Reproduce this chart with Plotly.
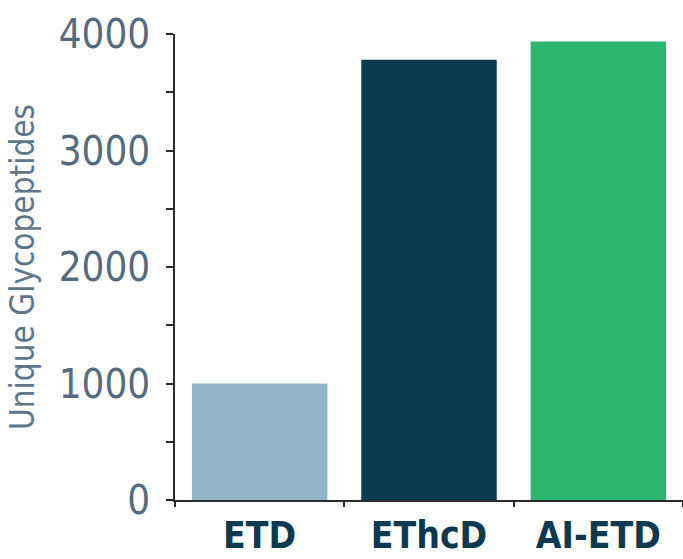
import plotly.graph_objects as go

# Unique glycopeptide identifications per fragmentation method
methods = ["ETD", "EThcD", "AI-ETD"]
glycopeptides = [1000, 3780, 3935]
bar_colors = ["#92b6c9", "#0b3a51", "#2cb56d"]

y_tick_values = [0, 1000, 2000, 3000, 4000]
y_tick_labels = ["0", "1000", "2000", "3000", "4000"]

NARROW = "DejaVu Sans Condensed, Liberation Sans Narrow, sans-serif"
SLATE = "#566b7d"
AXIS = "#2b2b2b"

fig = go.Figure(
    go.Bar(
        x=methods,
        y=glycopeptides,
        marker=dict(color=bar_colors, line=dict(width=0)),
        hoverinfo="x+y",
    )
)

fig.update_layout(
    width=683,
    height=559,
    margin=dict(l=175, r=0, t=34, b=59),
    paper_bgcolor="white",
    plot_bgcolor="white",
    bargap=0.2,
    showlegend=False,
)

fig.update_xaxes(
    type="category",
    range=[-0.5, 2.5],
    automargin=False,
    showline=True,
    linecolor=AXIS,
    linewidth=1.5,
    ticks="outside",
    tickson="boundaries",
    ticklen=5,
    tickwidth=1.5,
    tickcolor=AXIS,
    showgrid=False,
    zeroline=False,
    tickfont=dict(family=NARROW, size=37, color="#0d3a50", weight="bold"),
    ticklabelstandoff=2,
)

fig.update_yaxes(
    range=[0, 4000],
    automargin=False,
    tickmode="array",
    tickvals=y_tick_values,
    ticktext=y_tick_labels,
    showline=True,
    linecolor=AXIS,
    linewidth=1.5,
    ticks="outside",
    ticklen=7,
    tickwidth=1.5,
    tickcolor=AXIS,
    minor=dict(dtick=500, ticks="outside", ticklen=7, tickwidth=1.5, tickcolor=AXIS, showgrid=False),
    showgrid=False,
    zeroline=False,
    tickfont=dict(family=NARROW, size=40, color=SLATE),
    ticklabelstandoff=8,
    title=dict(
        text="Unique Glycopeptides",
        font=dict(family=NARROW, size=33, color="#5f7689"),
        standoff=14,
    ),
)

fig.write_html("out.html")
